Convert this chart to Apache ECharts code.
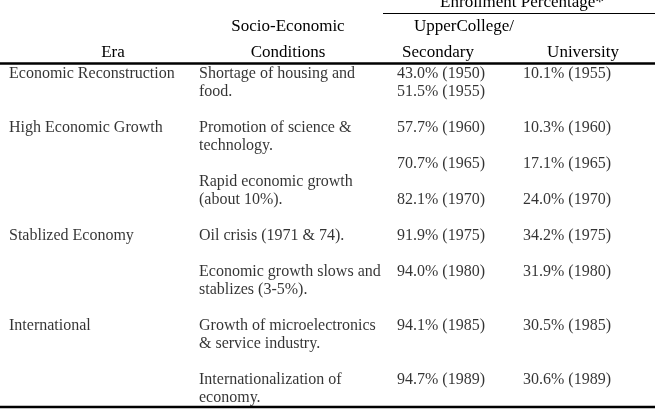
<!DOCTYPE html>
<html><head><meta charset="utf-8">
<script src="https://cdn.jsdelivr.net/npm/echarts@6/dist/echarts.min.js"></script>
<style>html,body{margin:0;padding:0;background:#fff}#c{width:660px;height:410px}</style>
</head><body><div id="c"></div>
<script>
// ---- data ----
var columnHeaders = ['Era', 'Socio-Economic\nConditions', 'UpperCollege/', 'Secondary', 'University'];
var groupHeader = 'Enrollment Percentage*';
var eras = ['Economic Reconstruction', 'High Economic Growth', 'Stablized Economy', 'International'];
var eraRow = [0, 3, 9, 14];
var conditions = ['Shortage of housing and\nfood.', 'Promotion of science &\ntechnology.', 'Rapid economic growth\n(about 10%).', 'Oil crisis (1971 & 74).', 'Economic growth slows and\nstablizes (3-5%).', 'Growth of microelectronics\n& service industry.', 'Internationalization of\neconomy.'];
var conditionRow = [0, 3, 6, 9, 11, 14, 17];
var secondaryPct = [43.0, 51.5, 57.7, 70.7, 82.1, 91.9, 94.0, 94.1, 94.7];
var secondaryYear = [1950, 1955, 1960, 1965, 1970, 1975, 1980, 1985, 1989];
var secondaryRow = [0, 1, 3, 5, 7, 9, 11, 14, 17];
var universityPct = [10.1, 10.3, 17.1, 24.0, 34.2, 31.9, 30.5, 30.6];
var universityYear = [1955, 1960, 1965, 1970, 1975, 1980, 1985, 1989];
var universityRow = [0, 3, 5, 7, 9, 11, 14, 17];

// ---- layout ----
var colX = [9, 199, 397, 523];
var FONT = '"Liberation Serif", "Times New Roman", serif';
var chart = echarts.init(document.getElementById('c'));

function cell(col, row, text) { return { value: [colX[col], row], label: { formatter: text } }; }
function fmt(p, y) { return p.toFixed(1) + '% (' + y + ')'; }

var d0 = eras.map(function (t, i) { return cell(0, eraRow[i], t); });
var d1 = conditions.map(function (t, i) { return cell(1, conditionRow[i], t); });
var d2 = secondaryPct.map(function (p, i) { return cell(2, secondaryRow[i], fmt(p, secondaryYear[i])); });
var d3 = universityPct.map(function (p, i) { return cell(3, universityRow[i], fmt(p, universityYear[i])); });

function series(data) {
  return {
    type: 'scatter', data: data, symbolSize: 0, silent: true,
    label: { show: true, position: [0, -9], align: 'left', verticalAlign: 'top',
      fontFamily: FONT, fontSize: 16, lineHeight: 18, color: '#000' }
  };
}

var headerPos = [[113, 66], [288, 66], [464, 40], [438, 66], [583, 66]];
var hdr = columnHeaders.map(function (t, i) {
  return { type: 'text', x: headerPos[i][0], y: headerPos[i][1],
    style: { text: t, fill: '#000', font: '17px ' + FONT, align: 'center', verticalAlign: 'bottom', lineHeight: 26 } };
});

chart.setOption({
  animation: false,
  grid: { left: 0, right: 0, top: 65, bottom: 3 },
  xAxis: { type: 'value', min: 0, max: 660, show: false },
  yAxis: { type: 'value', min: -0.5, max: 18.5, inverse: true, show: false },
  series: [series(d0), series(d1), series(d2), series(d3)],
  graphic: hdr.concat([
    { type: 'text', x: 522, y: 11, style: { text: groupHeader, fill: '#000', font: '17px ' + FONT, align: 'center', verticalAlign: 'bottom' } },
    { type: 'line', shape: { x1: 383, y1: 13.5, x2: 655, y2: 13.5 }, style: { stroke: '#000', lineWidth: 1 } },
    { type: 'line', shape: { x1: 0, y1: 63.5, x2: 655, y2: 63.5 }, style: { stroke: '#000', lineWidth: 2.5 } },
    { type: 'line', shape: { x1: 0, y1: 407, x2: 655, y2: 407 }, style: { stroke: '#000', lineWidth: 2.5 } }
  ])
});
</script></body></html>
